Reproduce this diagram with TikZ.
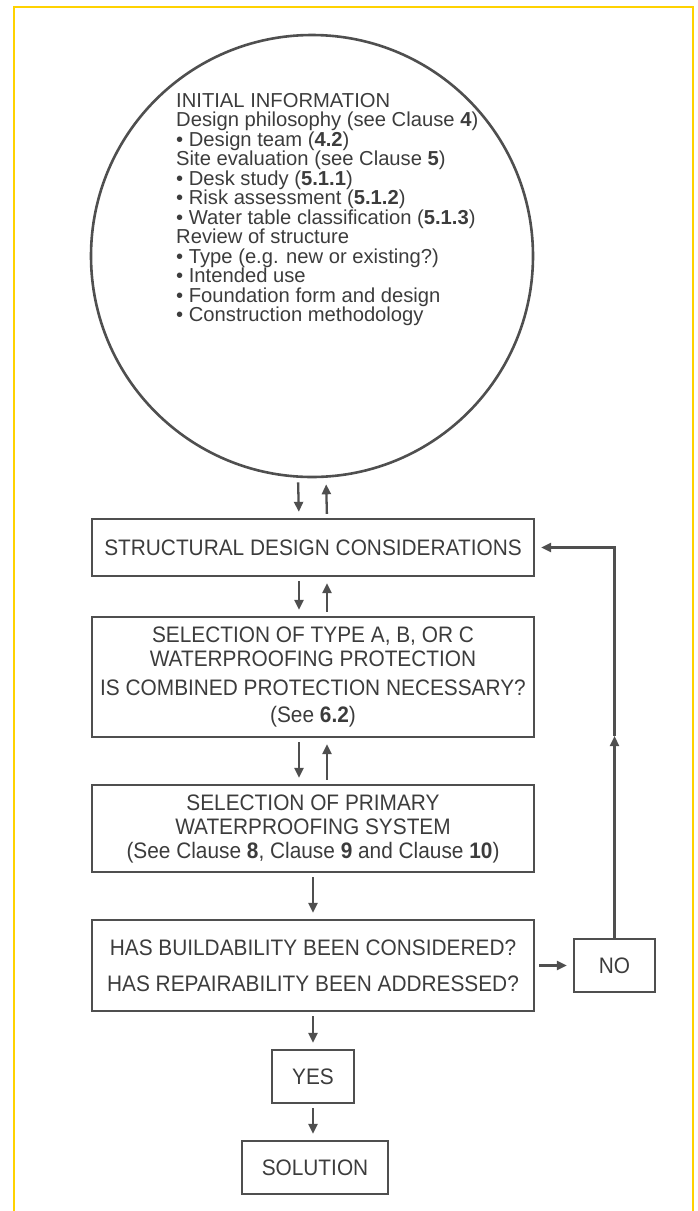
\documentclass[tikz,border=0pt]{standalone}
\usepackage{fontspec}
\setmainfont{Liberation Sans}
\newfontfamily\boxfont[FakeStretch=0.93]{Liberation Sans}
\usetikzlibrary{positioning, arrows.meta, calc}
\definecolor{framegold}{HTML}{FFD200}
\definecolor{inkgray}{HTML}{3C3C3C}
\definecolor{linegray}{HTML}{4F4F4F}

\begin{document}
\begin{tikzpicture}[
  x=1pt, y=-1pt,
  font=\boxfont\fontsize{22.4}{24}\selectfont, text=inkgray,
  box/.style={rectangle, draw=linegray, line width=2.3pt, align=center, inner sep=0pt, minimum width=442pt},
  tag/.style={rectangle, draw=linegray, line width=2.3pt, align=center, inner sep=0pt, minimum height=53pt},
  ar/.style={-{Triangle[length=10pt,width=9pt]}, line width=2.3pt, draw=linegray, shorten <=4pt, shorten >=6pt},
  note/.style={align=left, inner sep=0pt, font=\rmfamily\fontsize{20.2}{19.5}\selectfont}
]
\useasboundingbox (0,0) rectangle (697,1211);

% frame, open at the bottom
\coordinate (fbl) at (14,1211);
\coordinate (ftl) at (14,7);
\coordinate (ftr) at (693,7);
\coordinate (fbr) at (693,1211);
\draw[framegold, line width=2.2pt] (fbl) -- (ftl) -- (ftr) -- (fbr);

\node[circle, draw=linegray, line width=2.6pt, minimum size=442pt, inner sep=0pt] (info) at (312,256) {};
\node[note, anchor=north west] (infotxt) at (176,93) {INITIAL INFORMATION\\
Design philosophy (see Clause \textbf{4})\\
• Design team (\textbf{4.2})\\
Site evaluation (see Clause \textbf{5})\\
• Desk study (\textbf{5.1.1})\\
• Risk assessment (\textbf{5.1.2})\\
• Water table classification (\textbf{5.1.3})\\
Review of structure\\
• Type (e.g. new or existing?)\\
• Intended use\\
• Foundation form and design\\
• Construction methodology};

\node[box, minimum height=57pt] (sdc) at (313,547.5) {STRUCTURAL DESIGN CONSIDERATIONS};
\node[box, minimum height=120pt] (typ) at (313,677) {SELECTION OF TYPE A, B, OR C\\WATERPROOFING PROTECTION\\[5pt]IS COMBINED PROTECTION NECESSARY?\\[3pt](See \textbf{6.2})};
\node[box, minimum height=87pt] (sys) at (313,828.5) {SELECTION OF PRIMARY\\WATERPROOFING SYSTEM\\(See Clause \textbf{8}, Clause \textbf{9} and Clause \textbf{10})};
\node[box, minimum height=91pt] (chk) at (313,965.5) {HAS BUILDABILITY BEEN CONSIDERED?\\[12pt]HAS REPAIRABILITY BEEN ADDRESSED?};

\node[tag, minimum width=81pt] (no) at (614.5,965.5) {NO};
\node[tag, minimum width=82pt] (yes) at (313,1076.5) {YES};
\node[tag, minimum width=146pt] (sol) at (315,1167.5) {SOLUTION};

\draw[ar] ([xshift=-14pt]info.south) -- ([xshift=-14pt]sdc.north);
\draw[ar] ([xshift=14pt]sdc.north) -- ([xshift=14pt]info.south);
\draw[ar] ([xshift=-14pt]sdc.south) -- ([xshift=-14pt]typ.north);
\draw[ar] ([xshift=14pt]typ.north) -- ([xshift=14pt]sdc.south);
\draw[ar] ([xshift=-14pt]typ.south) -- ([xshift=-14pt]sys.north);
\draw[ar] ([xshift=14pt]sys.north) -- ([xshift=14pt]typ.south);
\draw[ar] (sys) -- (chk);
\draw[ar] (chk.south) -- (yes.north);
\draw[ar] (yes.south) -- (sol.north -| yes.south);
\draw[ar] (chk.east) -- (no.west);

% loop back from NO
\coordinate (fbk) at (615,736);
\draw[ar, shorten <=0pt, shorten >=0pt] (no.north) -- (no.north |- fbk);
\draw[ar, shorten <=0pt] (no.north |- fbk) |- (sdc.east);

\end{tikzpicture}
\end{document}
